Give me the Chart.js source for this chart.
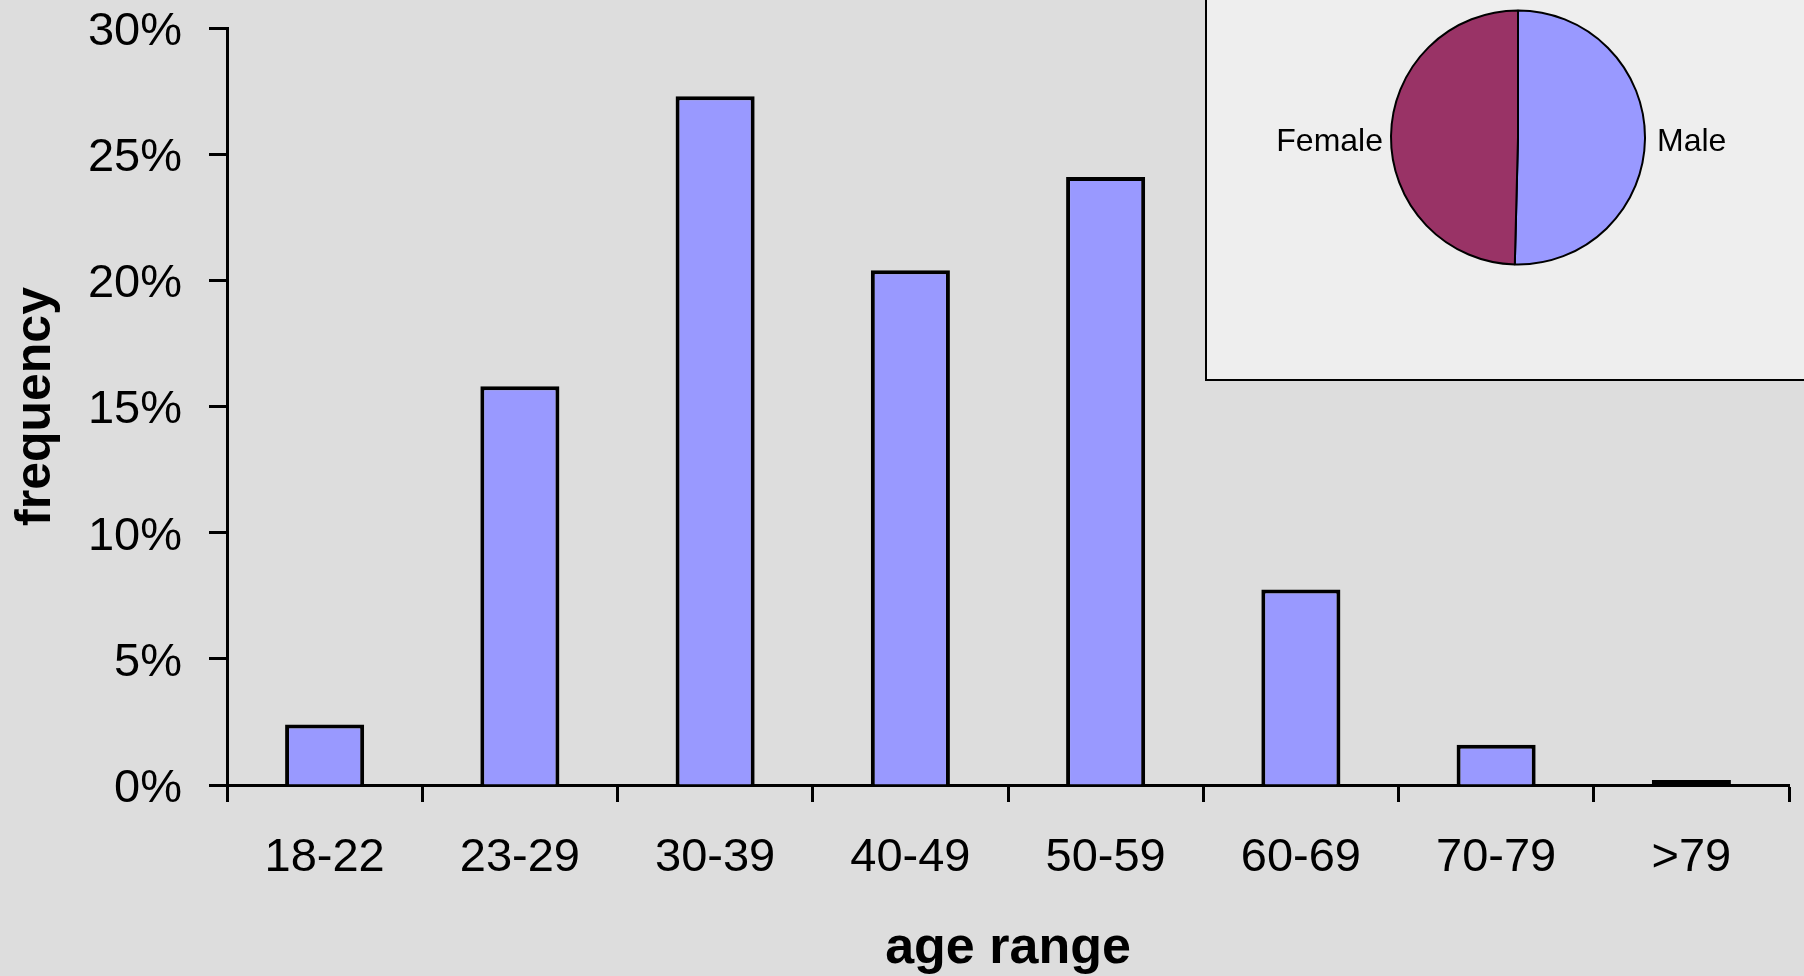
<!DOCTYPE html>
<html>
<head>
<meta charset="utf-8">
<title>age range</title>
<script src="https://cdn.jsdelivr.net/npm/chart.js@4.4.0/dist/chart.umd.min.js"></script>
<style>
  html, body { margin: 0; padding: 0; background: #dddddd; overflow: hidden; }
  #wrap { position: relative; width: 1804px; height: 976px; }
  #main { position: absolute; left: 0; top: 0; }
  #inset { position: absolute; left: 1205px; top: -5px; width: 700px; height: 382px; background: #eeeeee; border: 2px solid #000; }
  #pie { position: absolute; left: 1206px; top: 0; }
</style>
</head>
<body>
<div id="wrap">
  <canvas id="main" width="1804" height="976"></canvas>
  <div id="inset"></div>
  <canvas id="pie" width="624" height="275"></canvas>
</div>
<script>
// data
const ageRanges = ['18-22', '23-29', '30-39', '40-49', '50-59', '60-69', '70-79', '>79'];
const frequency = [2.4, 15.8, 27.3, 20.4, 24.1, 7.75, 1.6, 0.2];
const genders = ['Male', 'Female'];
const genderShare = [50.4, 49.6];

const FONT = '"Liberation Sans", Arial, Helvetica, sans-serif';
Chart.defaults.font.family = FONT;
Chart.defaults.color = '#000';

// main bar chart
new Chart(document.getElementById('main').getContext('2d'), {
  type: 'bar',
  data: {
    labels: ageRanges,
    datasets: [{
      data: frequency,
      backgroundColor: '#9999ff',
      borderColor: '#000',
      borderWidth: 4,
      // the tiny last bar shows up as a solid black line
      borderSkipped: (ctx) => (ctx.raw < 1 ? false : 'start'),
      barPercentage: 0.405,
      categoryPercentage: 1.0
    }]
  },
  options: {
    responsive: false,
    animation: false,
    layout: { padding: { top: 28, right: 15, bottom: 0, left: 0 } },
    plugins: { legend: { display: false }, tooltip: { enabled: false } },
    scales: {
      x: {
        offset: true,
        grid: { display: true, offset: true, drawOnChartArea: false, drawTicks: true, tickLength: 17, tickWidth: 3, tickColor: '#000' },
        border: { display: true, color: '#000', width: 3 },
        ticks: { color: '#000', font: { size: 47, lineHeight: 1 }, padding: 33, maxRotation: 0, autoSkip: false },
        title: { display: true, text: 'age range', color: '#000', font: { size: 52, weight: 'bold', lineHeight: 1 }, padding: { top: 0, bottom: 1 } },
        afterFit(scale) {
          scale.height = 191;
          scale.paddingLeft = 0;
          scale.paddingRight = 0;
        }
      },
      y: {
        min: 0,
        max: 30,
        grid: { display: true, drawOnChartArea: false, drawTicks: true, tickLength: 18, tickWidth: 3, tickColor: '#000' },
        border: { display: true, color: '#000', width: 3 },
        ticks: { stepSize: 5, color: '#000', font: { size: 47, lineHeight: 1 }, padding: 27, labelOffset: 4, callback: (v) => v + '%' },
        title: { display: true, text: 'frequency', color: '#000', font: { size: 50, weight: 'bold', lineHeight: 1 }, padding: { top: 11, bottom: 0 } },
        afterFit(scale) {
          scale.width = 227;
          scale.paddingTop = 0;
          scale.paddingBottom = 0;
        }
      }
    }
  }
});

// labels beside the pie slices, level with the pie centre
const sliceLabels = {
  id: 'sliceLabels',
  afterDatasetsDraw(chart) {
    const ctx = chart.ctx;
    const meta = chart.getDatasetMeta(0);
    ctx.save();
    ctx.font = '32px ' + FONT;
    ctx.fillStyle = '#000';
    ctx.textBaseline = 'middle';
    meta.data.forEach((arc, i) => {
      const mid = (arc.startAngle + arc.endAngle) / 2;
      const right = Math.cos(mid) >= 0;
      ctx.textAlign = right ? 'left' : 'right';
      const x = right ? arc.x + arc.outerRadius + 12 : arc.x - arc.outerRadius - 8;
      ctx.fillText(chart.data.labels[i], x, arc.y + 5);
    });
    ctx.restore();
  }
};

// inset pie chart
new Chart(document.getElementById('pie').getContext('2d'), {
  type: 'pie',
  data: {
    labels: genders,
    datasets: [{
      data: genderShare,
      backgroundColor: ['#9999ff', '#993366'],
      borderColor: '#000',
      borderWidth: 2
    }]
  },
  options: {
    responsive: false,
    animation: false,
    radius: 127,
    plugins: { legend: { display: false }, tooltip: { enabled: false } }
  },
  plugins: [sliceLabels]
});
</script>
</body>
</html>
